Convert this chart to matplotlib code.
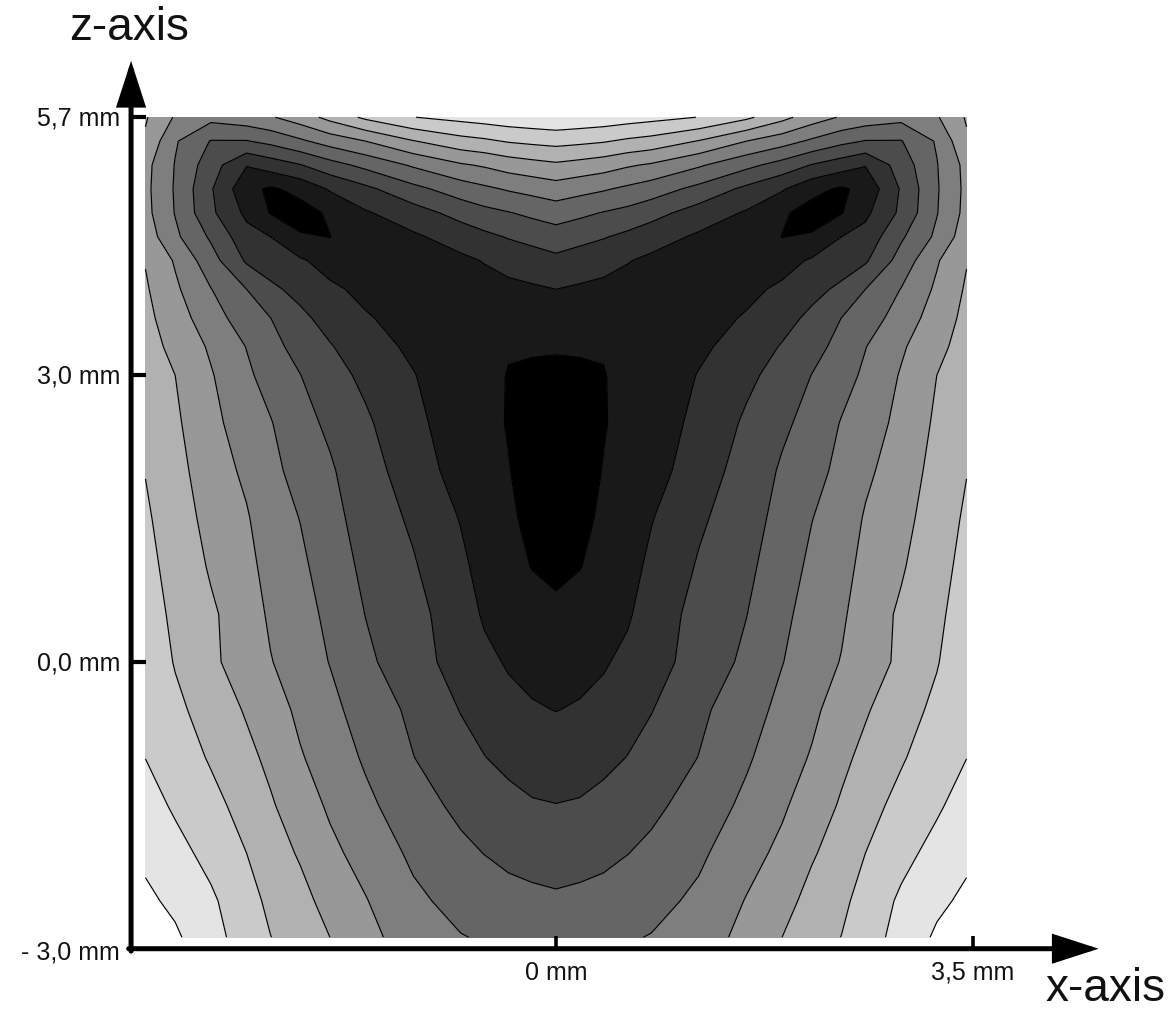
import numpy as np
import matplotlib
matplotlib.use('Agg')
import matplotlib.pyplot as plt

# --- Measured field, left half of the scan (x <= 0); the right half mirrors it ---
x_half = [-3.45, -3.2, -2.9, -2.6, -2.4, -2.15, -1.9, -1.6, -1.2, -0.8, -0.6,
          -0.4, -0.2, 0.0]
z_rows = [5.7, 5.45, 5.2, 4.95, 4.7, 4.45, 4.2, 3.9, 3.6, 3.3, 3.0, 2.5, 2.0,
          1.5, 1.0, 0.5, 0.0, -0.5, -1.0, -1.5, -2.0, -2.5, -2.88]
field_half = [
    [7.10, 5.90, 5.30, 5.60, 5.90, 6.50, 7.30, 8.20, 8.98, 9.30, 9.45, 9.60, 9.70, 9.80],
    [6.85, 5.10, 3.95, 3.95, 4.27, 4.83, 5.42, 6.00, 6.95, 7.64, 7.83, 8.08, 8.22, 8.33],
    [6.30, 4.95, 3.45, 2.05, 2.47, 2.95, 3.62, 4.27, 5.13, 5.88, 6.12, 6.44, 6.65, 6.83],
    [6.25, 4.90, 3.10, 1.30, 0.85, 1.30, 2.10, 2.77, 3.72, 4.50, 4.81, 5.10, 5.32, 5.55],
    [6.30, 4.95, 3.20, 1.78, 0.95, 0.60, 1.15, 1.90, 2.56, 3.36, 3.71, 3.95, 4.22, 4.46],
    [6.55, 5.20, 3.85, 2.35, 2.00, 1.10, 0.98, 1.70, 1.85, 2.43, 2.77, 3.07, 3.30, 3.54],
    [6.95, 5.90, 4.40, 2.87, 2.53, 2.13, 1.60, 1.65, 1.65, 1.80, 2.05, 2.31, 2.54, 2.76],
    [7.12, 6.17, 5.03, 4.00, 3.20, 2.71, 2.19, 1.75, 1.55, 1.55, 1.65, 1.78, 1.87, 2.00],
    [7.26, 6.46, 5.44, 4.48, 4.01, 3.22, 2.65, 2.09, 1.60, 1.40, 1.40, 1.41, 1.46, 1.53],
    [7.39, 6.74, 5.86, 4.97, 4.33, 3.64, 3.07, 2.45, 1.80, 1.32, 1.30, 1.05, 1.06, 1.06],
    [7.53, 7.00, 6.08, 5.17, 4.63, 4.02, 3.34, 2.80, 2.05, 1.30, 1.20, 0.97, 0.90, 0.85],
    [7.75, 7.16, 6.28, 5.49, 5.06, 4.34, 3.81, 3.14, 2.31, 1.35, 1.15, 0.97, 0.82, 0.70],
    [7.97, 7.32, 6.49, 5.81, 5.26, 4.66, 4.13, 3.35, 2.58, 1.55, 1.25, 1.02, 0.80, 0.65],
    [8.15, 7.47, 6.70, 6.09, 5.46, 4.98, 4.34, 3.56, 2.85, 1.95, 1.45, 1.10, 0.85, 0.70],
    [8.31, 7.63, 6.90, 6.29, 5.65, 5.19, 4.55, 3.77, 3.09, 2.20, 1.65, 1.30, 0.97, 0.80],
    [8.48, 7.79, 7.14, 6.50, 5.85, 5.41, 4.76, 3.98, 3.32, 2.45, 1.88, 1.70, 1.33, 1.19],
    [8.65, 7.94, 7.20, 6.50, 6.05, 5.50, 4.97, 4.20, 3.40, 2.60, 2.22, 1.91, 1.70, 1.59],
    [8.82, 8.21, 7.60, 6.90, 6.44, 5.80, 5.26, 4.57, 3.80, 2.96, 2.62, 2.27, 2.09, 1.98],
    [8.99, 8.54, 7.90, 7.25, 6.78, 6.08, 5.56, 4.87, 4.02, 3.35, 3.02, 2.77, 2.59, 2.52],
    [9.38, 8.87, 8.30, 7.63, 7.11, 6.48, 5.86, 5.22, 4.42, 3.77, 3.50, 3.27, 3.08, 3.02],
    [9.79, 9.30, 8.72, 8.00, 7.44, 6.90, 6.23, 5.64, 4.82, 4.22, 3.98, 3.79, 3.65, 3.58],
    [10.20, 9.79, 9.15, 8.40, 7.77, 7.30, 6.67, 6.05, 5.20, 4.69, 4.52, 4.30, 4.22, 4.14],
    [10.50, 10.15, 9.35, 8.55, 8.02, 7.50, 7.00, 6.30, 5.50, 5.04, 4.92, 4.75, 4.62, 4.56],
]

levels = list(range(0, 12))          # band edges 0..11, lines drawn at 1..10
band_grays = [k * 25.3 / 255 for k in range(10)]
band_colors = [str(round(g, 3)) for g in band_grays] + ['white']

x_ticks = [0.0, 3.5]
x_tick_labels = ['0 mm', '3,5 mm']
z_ticks = [5.7, 3.0, 0.0]
z_tick_labels = ['5,7 mm', '3,0 mm', '0,0 mm']
z_bottom_label = '- 3,0 mm'

# build the full symmetric grid
xh = np.array(x_half)
x_full = np.concatenate([xh, -xh[-2::-1]])
fh = np.array(field_half)
field = np.concatenate([fh, fh[:, -2::-1]], axis=1)
X, Z = np.meshgrid(x_full, np.array(z_rows))

# --- Figure: one axes over the whole canvas, data units = mm ---
W, H = 1176, 1012
fig = plt.figure(figsize=(W / 100, H / 100), dpi=100)
ax = fig.add_axes([0, 0, 1, 1])
px_per_x = 119.0
px_per_z = 95.57
x0_px, z0_px = 556, 663
ax.set_xlim(-x0_px / px_per_x, (W - x0_px) / px_per_x)
ax.set_ylim((z0_px - H) / px_per_z, z0_px / px_per_z)
ax.axis('off')

ax.contourf(X, Z, field, levels=levels, colors=band_colors)
ax.contour(X, Z, field, levels=levels[1:-1], colors='black', linewidths=0.85)

# --- Hand-drawn style axes with arrows ---
axis_x = -3.571
axis_z = -3.0
font = 'Liberation Sans'
ink = '#111111'

arrow = dict(arrowstyle='-|>,head_length=1.3,head_width=0.42', lw=3.6,
             color='black', mutation_scale=20, shrinkA=0, shrinkB=0,
             joinstyle='miter')
ax.annotate('', xy=(axis_x, 6.29), xytext=(axis_x, axis_z - 0.025),
            arrowprops=arrow)
ax.annotate('', xy=(4.56, axis_z), xytext=(axis_x - 0.02, axis_z),
            arrowprops=arrow)

tick_dx = 15 / px_per_x
for z, lab in zip(z_ticks, z_tick_labels):
    ax.plot([axis_x, axis_x + tick_dx], [z, z], color='black', lw=3.0,
            solid_capstyle='butt')
    ax.text(-3.664, z, lab, ha='right', va='center', fontsize=18,
            family=font, color=ink)
ax.text(-3.664, axis_z - 0.03, z_bottom_label, ha='right', va='center',
        fontsize=18, family=font, color=ink)

tick_dz = 13 / px_per_z
for x, lab in zip(x_ticks, x_tick_labels):
    ax.plot([x, x], [axis_z, axis_z + tick_dz], color='black', lw=2.6,
            solid_capstyle='butt')
    ax.text(x, -3.24, lab, ha='center', va='center', fontsize=18,
            family=font, color=ink)

ax.text(-3.588, 6.519, 'z-axis', ha='center', va='baseline', fontsize=33,
        family=font, color=ink)
ax.text(4.62, -3.537, 'x-axis', ha='center', va='baseline', fontsize=33,
        family=font, color=ink)

fig.savefig('out.png', dpi=100)
